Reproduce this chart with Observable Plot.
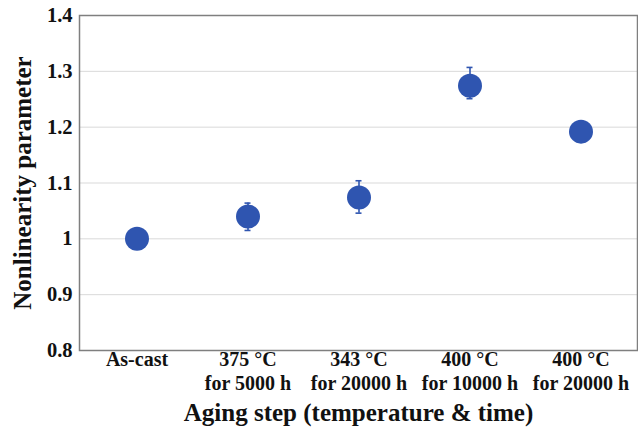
<!DOCTYPE html>
<html>
<head>
<meta charset="utf-8">
<script src="https://cdn.jsdelivr.net/npm/d3@7"></script>
<script src="https://cdn.jsdelivr.net/npm/@observablehq/plot@0.6"></script>
<style>
  html, body { margin: 0; padding: 0; background: #fff; }
  #chart svg { display: block; }
  #chart svg text { font-family: "Liberation Serif", "Times New Roman", serif !important; }
</style>
</head>
<body>
<div id="chart"></div>
<script>
const categories = ["As-cast", "375 °C\nfor 5000 h", "343 °C\nfor 20000 h", "400 °C\nfor 10000 h", "400 °C\nfor 20000 h"];
const values = [1.0, 1.04, 1.074, 1.274, 1.192];
const errLow = [null, 1.015, 1.046, 1.251, null];
const errHigh = [null, 1.064, 1.104, 1.307, null];
const yTicks = [0.8, 0.9, 1.0, 1.1, 1.2, 1.3, 1.4];
const yTickLabels = ["0.8", "0.9", "1", "1.1", "1.2", "1.3", "1.4"];
const xTitle = "Aging step (temperature & time)";
const yTitle = "Nonlinearity parameter";

const data = categories.map((c, i) => ({cat: c, v: values[i], lo: errLow[i], hi: errHigh[i]}));
const errData = data.filter(d => d.lo != null);
const blue = "#2f55b0";
const font = "Liberation Serif";

const chart = Plot.plot({
  width: 638,
  height: 428,
  marginLeft: 79,
  marginRight: 1,
  marginTop: 15,
  marginBottom: 78,
  style: {fontFamily: font, color: "#111", background: "#fff"},
  x: {domain: categories, padding: 0, label: null},
  y: {domain: [0.8, 1.4], label: null},
  marks: [
    Plot.gridY(yTicks, {stroke: "#d9d9d9", strokeOpacity: 1, strokeWidth: 1}),
    Plot.frame({stroke: "#7f7f7f", strokeWidth: 1.5}),
    Plot.axisY({ticks: yTicks, tickFormat: (d, i) => yTickLabels[i], tickSize: 0, tickPadding: 7,
      fontSize: 20.5, fontWeight: "bold", fontFamily: font, fill: "#111", label: null}),
    Plot.axisX({tickSize: 0, tickPadding: -2, fontSize: 20, fontWeight: "bold", fontFamily: font, fill: "#111",
      label: null, lineHeight: 1.2}),
    Plot.ruleX(errData, {x: "cat", y1: "lo", y2: "hi", stroke: blue, strokeWidth: 1.6}),
    Plot.tickY(errData, {x: "cat", y: "lo", stroke: blue, strokeWidth: 1.6, insetLeft: 52.5, insetRight: 52.5}),
    Plot.tickY(errData, {x: "cat", y: "hi", stroke: blue, strokeWidth: 1.6, insetLeft: 52.5, insetRight: 52.5}),
    Plot.dot(data, {x: "cat", y: "v", r: 12, fill: blue, stroke: null}),
    Plot.text([yTitle], {frameAnchor: "left", dx: -57, rotate: -90, textAnchor: "middle", fontSize: 25,
      fontWeight: "bold", fontFamily: font, fill: "#111"}),
    Plot.text([xTitle], {frameAnchor: "bottom", dy: 70, textAnchor: "middle", fontSize: 25,
      fontWeight: "bold", fontFamily: font, fill: "#111"})
  ]
});
document.getElementById("chart").appendChild(chart);
</script>
</body>
</html>
